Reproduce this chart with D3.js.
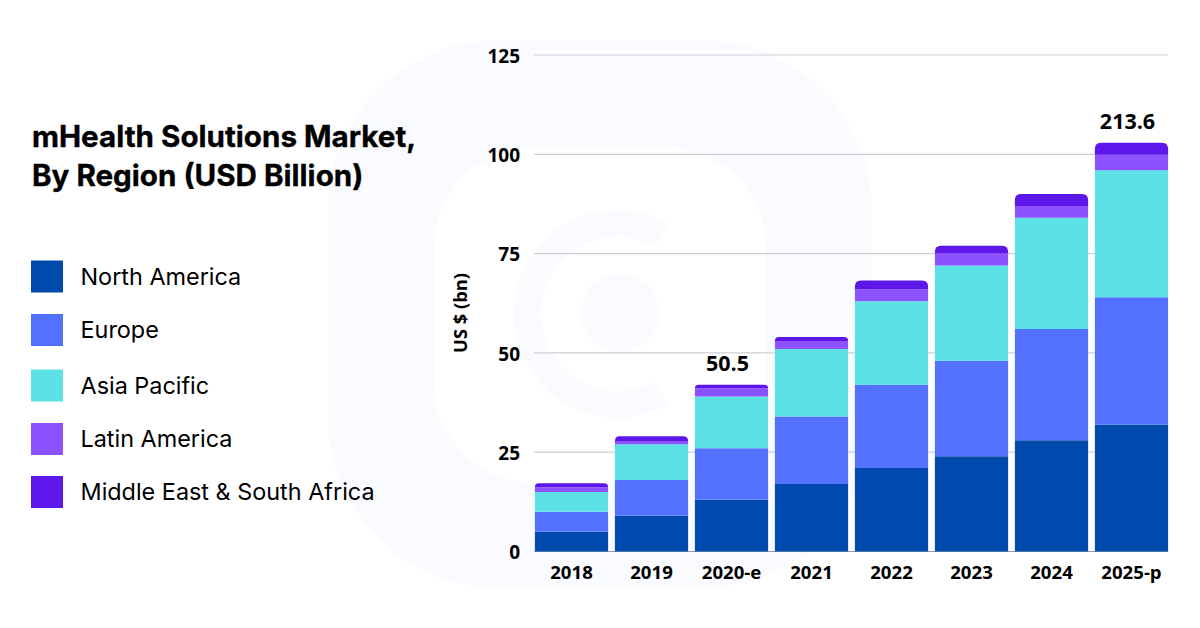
<!DOCTYPE html>
<html><head><meta charset="utf-8">
<script src="https://cdnjs.cloudflare.com/ajax/libs/d3/7.8.5/d3.min.js"></script>
<style>html,body{margin:0;padding:0;background:#fff}svg{display:block}</style>
</head><body><svg id="c" width="1200" height="628"></svg>
<script>
const categories=["2018","2019","2020-e","2021","2022","2023","2024","2025-p"];
const regions=["North America","Europe","Asia Pacific","Latin America","Middle East & South Africa"];
const northAmerica=[5,9,13,17,21,24,28,32];
const europe=[5,9,13,17,21,24,28,32];
const asiaPacific=[5,9,13,17,21,24,28,32];
const latinAmerica=[1.2,0.8,2.1,2,3,3,3,3.9];
const middleEast=[1,1.2,0.9,1,2.2,2,3,3];
const colors=["#004AAD","#5271FF","#5CE1E6","#8C52FF","#5E17EB"];
const yTicks=[0,25,50,75,100,125];
const totalLabels={"2020-e":"50.5","2025-p":"213.6"};
const titleLines=["mHealth Solutions Market,","By Region (USD Billion)"];
const yTitle="US $ (bn)";

const svg=d3.select("#c");
const tickFont="'Open Sans',sans-serif";
const pale="#fafbfe";
const wm=svg.append("g");
wm.append("rect").attr("x",328).attr("y",40).attr("width",544).attr("height",548).attr("rx",170).attr("fill",pale);
wm.append("rect").attr("x",434).attr("y",148).attr("width",332).attr("height",335).attr("rx",100).attr("fill","#fff");
wm.append("path").attr("transform","translate(618,314)").attr("fill",pale)
 .attr("d",d3.arc().innerRadius(77).outerRadius(104).startAngle(151*Math.PI/180).endAngle(389*Math.PI/180)());
wm.append("circle").attr("cx",620).attr("cy",313).attr("r",39.5).attr("fill",pale);

const x=d3.scaleBand().domain(categories).range([531.5,1171.5]).paddingInner(0.085).paddingOuter(0.0425);
const y=d3.scaleLinear().domain([0,125]).range([551.5,55]);
svg.append("g").selectAll("line").data(yTicks).join("line")
 .attr("x1",534).attr("x2",1168).attr("y1",d=>y(d)).attr("y2",d=>y(d))
 .attr("stroke",d=>d===0?"#9a9a9a":"#cfcfd4").attr("stroke-width",1.2);
const yAxis=d3.axisLeft(y).tickValues(yTicks).tickSize(0).tickPadding(0);
const ya=svg.append("g").attr("transform","translate(520,1.2)").call(yAxis);
ya.select(".domain").remove();
ya.selectAll("text").attr("font-family",tickFont).attr("font-weight",700).attr("font-size",19).attr("fill","#000");
const xAxis=d3.axisBottom(x).tickSize(0).tickPadding(14);
const xa=svg.append("g").attr("transform","translate(0,551.5)").call(xAxis);
xa.select(".domain").remove();
xa.selectAll("text").attr("font-family",tickFont).attr("font-weight",700).attr("font-size",18.6).attr("fill","#000");

svg.append("text").attr("transform","translate(466.5,313) rotate(-90)").attr("text-anchor","middle")
 .attr("font-family",tickFont).attr("font-weight",700).attr("font-size",18.3).text(yTitle);

const rows=categories.map((c,i)=>({cat:c,0:northAmerica[i],1:europe[i],2:asiaPacific[i],3:latinAmerica[i],4:middleEast[i]}));
const stack=d3.stack().keys([0,1,2,3,4])(rows);
stack.forEach((s,k)=>{
 svg.append("g").selectAll("path").data(s).join("path").attr("fill",colors[k])
  .attr("d",d=>{
   const x0=x(d.data.cat),w=x.bandwidth(),yt=y(d[1]),yb=y(d[0]);
   if(k<4) return `M${x0},${yb}V${yt}H${x0+w}V${yb}Z`;
   const r=Math.min(6,yb-yt);
   return `M${x0},${yb}V${yt+r}Q${x0},${yt} ${x0+r},${yt}H${x0+w-r}Q${x0+w},${yt} ${x0+w},${yt+r}V${yb}Z`;
  });
});
svg.append("g").selectAll("text").data(stack[4].filter(d=>totalLabels[d.data.cat])).join("text")
 .attr("x",d=>x(d.data.cat)+x.bandwidth()/2-4).attr("y",d=>y(d[1])-13.5).attr("text-anchor","middle")
 .attr("font-family",tickFont).attr("font-weight",700).attr("font-size",21.5).attr("fill","#000")
 .text(d=>totalLabels[d.data.cat]);

svg.append("g").selectAll("text").data(titleLines).join("text")
 .attr("x",32).attr("y",(d,i)=>146.5+i*39).attr("font-family","Inter,sans-serif").attr("font-weight",700).attr("font-size",29.6)
 .attr("fill","#000").attr("stroke","#000").attr("stroke-width",0.35).text(d=>d);
const legY=[276.5,330,385.5,439,492];
const lg=svg.append("g").selectAll("g").data(regions).join("g").attr("transform",(d,i)=>`translate(31,${legY[i]})`);
lg.append("rect").attr("y",-16).attr("width",32).attr("height",32).attr("fill",(d,i)=>colors[i]);
lg.append("text").attr("x",49.5).attr("y",8).attr("font-family","Inter,sans-serif").attr("font-size",23.4).attr("fill","#000").text(d=>d);
</script></body></html>
